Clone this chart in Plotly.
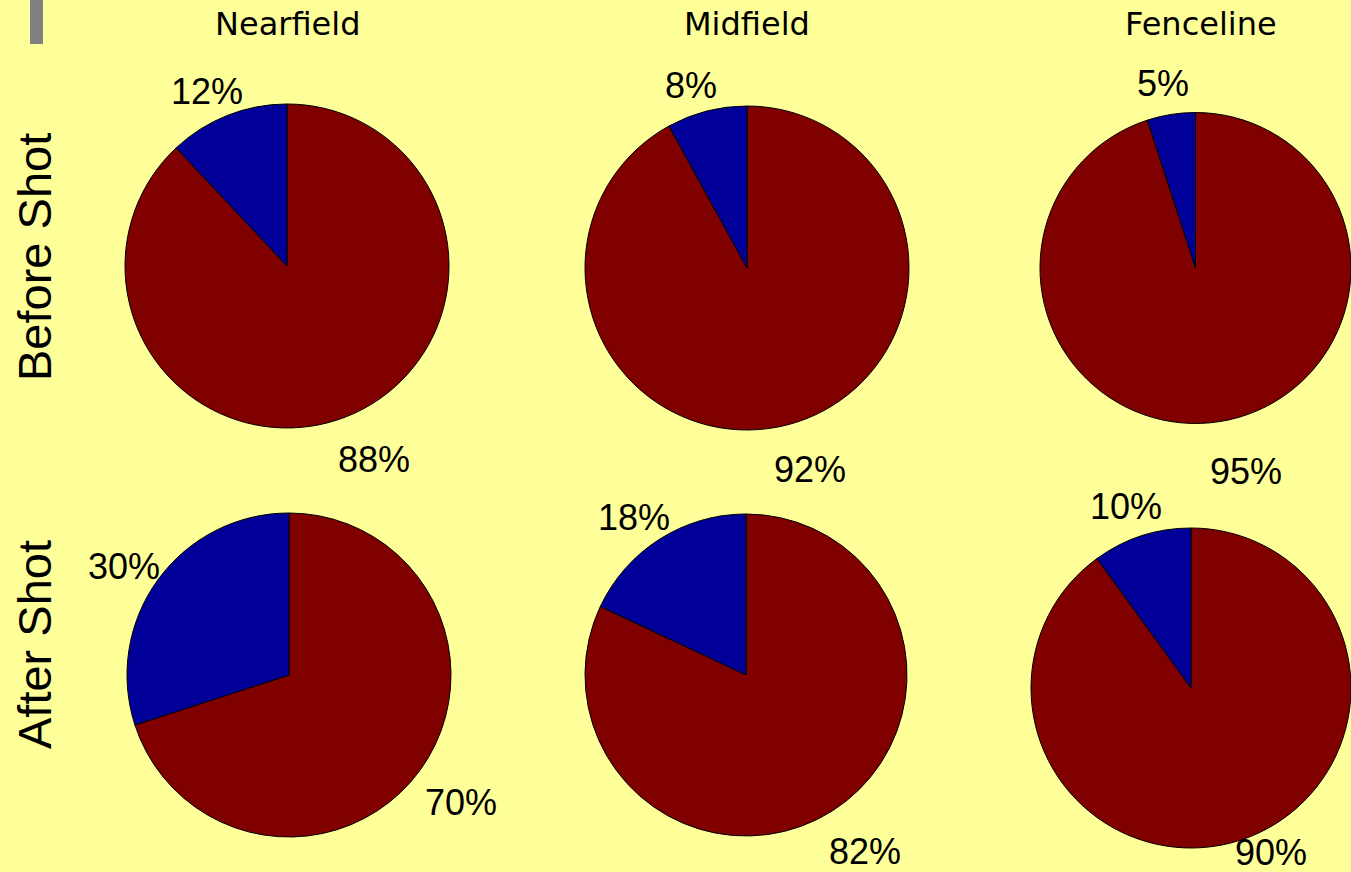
import math
import plotly.graph_objects as go

# Share of samples per location, before and after the shot (percent)
locations = ["Nearfield", "Midfield", "Fenceline"]
periods = ["Before Shot", "After Shot"]
red_share = [[88, 92, 95], [70, 82, 90]]
blue_share = [[12, 8, 5], [30, 18, 10]]

W, H = 1351, 872
BG = "#FFFF99"
RED = "#800000"
BLUE = "#000099"

# nominal pie centres (px) and radii (px) for each period row / location column
centres = [[(287, 266), (747, 268), (1201, 268)],
           [(289, 675), (746, 675), (1195, 688)]]
radii = [[162, 162, 161], [162, 161, 164]]

fig = go.Figure()
annotations = []

for i in range(len(periods)):
    for j in range(len(locations)):
        cx, cy = centres[i][j]
        r = radii[i][j]
        # a pie that would run past the right edge is fitted inside the page
        if cx + r > W:
            r_fit = (W - (cx - r)) / 2
        else:
            r_fit = r
        left = cx - r
        x0 = max(0.0, left / W)
        x1 = min(1.0, (left + 2 * r_fit) / W)
        y0 = 1 - (cy + r_fit) / H
        y1 = 1 - (cy - r_fit) / H
        vals = [red_share[i][j], blue_share[i][j]]
        fig.add_trace(go.Pie(
            values=vals,
            labels=["red", "blue"],
            marker=dict(colors=[RED, BLUE], line=dict(color="black", width=1)),
            sort=False,
            direction="clockwise",
            rotation=0,
            textinfo="none",
            hoverinfo="skip",
            showlegend=False,
            domain=dict(x=[x0, x1], y=[y0, y1]),
        ))
        # percentage labels placed outside each slice
        total = sum(vals)
        start = 0.0
        for v in vals:
            mid = (start + v / 2) / total * 2 * math.pi
            start += v
            s, c = math.sin(mid), math.cos(mid)
            px = cx + 1.2 * r * s + (15 if s > 0 else -8)
            py = cy - 1.2 * r * c + (13 if c < 0 else 6)
            py = min(py, H - 20)
            annotations.append(dict(
                x=px / W, y=1 - py / H, xref="paper", yref="paper",
                text=f"{v}%", showarrow=False,
                xanchor="center", yanchor="middle",
                font=dict(family="Liberation Sans, Arial", size=36, color="black"),
            ))

# column headings
for j, name in enumerate(locations):
    cx = centres[0][j][0]
    annotations.append(dict(
        x=cx / W, y=1 - 24 / H, xref="paper", yref="paper",
        text=name, showarrow=False, xanchor="center", yanchor="middle",
        font=dict(family="DejaVu Sans", size=32, color="black"),
    ))

# row headings
row_y = [257, 645]
for i, name in enumerate(periods):
    annotations.append(dict(
        x=34 / W, y=1 - row_y[i] / H, xref="paper", yref="paper",
        text=name, showarrow=False, textangle=-90,
        xanchor="center", yanchor="middle",
        font=dict(family="Liberation Sans, Arial", size=47, color="black"),
    ))

fig.update_layout(
    width=W, height=H,
    margin=dict(l=0, r=0, t=0, b=0),
    paper_bgcolor=BG, plot_bgcolor=BG,
    annotations=annotations,
    shapes=[dict(type="rect", xref="paper", yref="paper",
                 x0=30 / W, x1=43 / W, y0=1 - 44 / H, y1=1,
                 fillcolor="#808080", line=dict(width=0))],
)

fig.write_html("out.html")
